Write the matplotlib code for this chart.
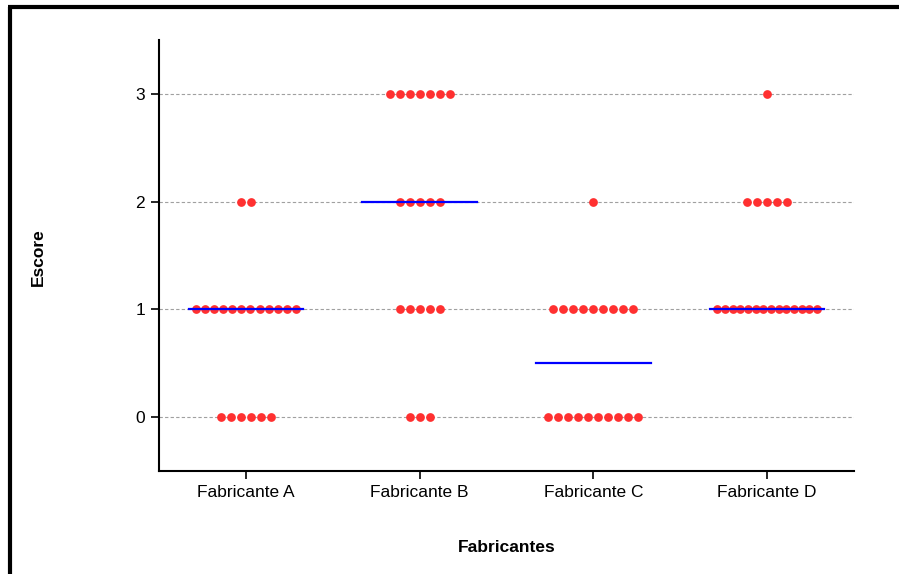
import numpy as np
import matplotlib.pyplot as plt
from matplotlib.lines import Line2D

# scores per manufacturer (count of samples at each score)
categories = ["Fabricante A", "Fabricante B", "Fabricante C", "Fabricante D"]
scores = [0, 1, 2, 3]
counts_a = [6, 12, 2, 0]
counts_b = [3, 5, 5, 7]
counts_c = [10, 9, 1, 0]
counts_d = [0, 14, 5, 1]
all_counts = [counts_a, counts_b, counts_c, counts_d]

plt.rcParams['font.family'] = ['Liberation Sans', 'DejaVu Sans']

fig = plt.figure(figsize=(8.99, 5.74), dpi=100)
ax = fig.add_axes([159 / 899, 1 - 471 / 574, (854 - 159) / 899, (471 - 40) / 574])

unit_px = 695 / 4.0
for i, cnts in enumerate(all_counts):
    values = np.repeat(scores, cnts)
    for s, n in zip(scores, cnts):
        if n == 0:
            continue
        step = min(10.0, 100.0 / max(n - 1, 1)) / unit_px
        xs = i + (np.arange(n) - (n - 1) / 2) * step
        ax.plot(xs, np.full(n, s), 'o', color='#ff3030', markersize=6.3,
                markeredgewidth=0, zorder=3)
    med = np.median(values)
    ax.plot([i - 0.33, i + 0.33], [med, med], color='#0000ff', lw=1.6, zorder=4)

ax.set_xlim(-0.5, 3.5)
ax.set_ylim(-0.5, 3.5)
ax.set_xticks(range(4))
ax.set_xticklabels(categories, fontsize=12.5)
ax.set_yticks(scores)
ax.set_yticklabels([str(s) for s in scores], fontsize=12.5)
ax.tick_params(direction='out', length=6, width=1.2, pad=4)
for y in scores:
    ax.axhline(y, color='#a0a0a0', lw=0.8, ls=(0, (3, 2)), zorder=1)
ax.spines['top'].set_visible(False)
ax.spines['right'].set_visible(False)
ax.spines['left'].set_linewidth(1.5)
ax.spines['bottom'].set_linewidth(1.5)

fig.text(38 / 899, 1 - 257 / 574, "Escore", rotation=90, fontsize=12.5,
         fontweight='bold', ha='center', va='center')
fig.text(507 / 899, 1 - 548 / 574, "Fabricantes", fontsize=12.5,
         fontweight='bold', ha='center', va='center')

# outer frame (top and left edges)
fig.add_artist(Line2D([10 / 899, 10 / 899], [0, 1 - 7 / 574], color='black',
                      lw=3, transform=fig.transFigure, solid_capstyle='butt'))
fig.add_artist(Line2D([8 / 899, 1], [1 - 7 / 574, 1 - 7 / 574], color='black',
                      lw=3, transform=fig.transFigure, solid_capstyle='butt'))

fig.savefig("out.png", dpi=100)
